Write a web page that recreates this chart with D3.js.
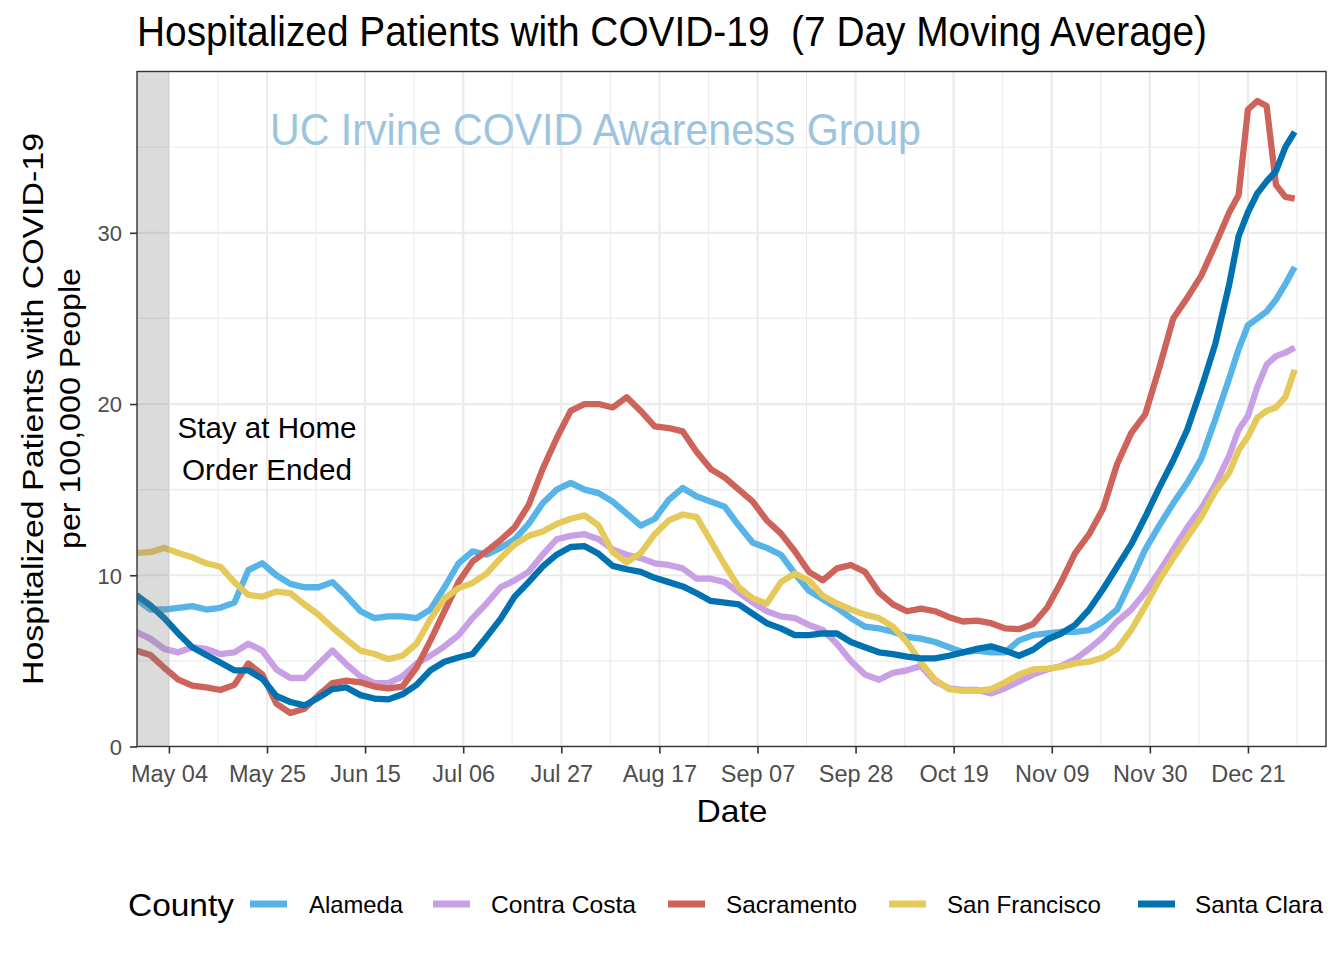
<!DOCTYPE html>
<html><head><meta charset="utf-8">
<script src="https://cdn.jsdelivr.net/npm/d3@7"></script>
<style>
body{margin:0;background:#fff}
svg text{font-family:"Liberation Sans",Arial,Helvetica,sans-serif;white-space:pre}
</style>
</head><body>
<svg id="c" width="1344" height="960"></svg>
<script>
// ---------- DATA ----------
const startDate = "2020-04-27";
const dayOffsets = [0,3,6,9,12,15,18,21,24,27,30,33,36,39,42,45,48,51,54,57,60,63,66,69,72,75,78,81,84,87,
  90,93,96,99,102,105,108,111,114,117,120,123,126,129,132,135,138,141,144,147,150,153,156,159,162,165,168,171,174,177,
  180,183,186,189,192,195,198,201,204,207,210,213,216,219,222,225,228,231,234,236,238,240,242,244,246,248];

const counties = ["Alameda","Contra Costa","Sacramento","San Francisco","Santa Clara"];

const alameda = [8.6,8.0,8.0,8.1,8.2,8.0,8.1,8.4,10.3,10.7,
  10.0,9.5,9.3,9.3,9.6,8.8,7.9,7.5,7.6,7.6,
  7.5,8.0,9.3,10.7,11.4,11.2,11.6,12.1,13.0,14.2,
  15.0,15.4,15.0,14.8,14.3,13.6,12.9,13.3,14.4,15.1,
  14.6,14.3,14.0,12.9,11.9,11.6,11.2,10.1,9.1,8.6,
  8.1,7.5,7.0,6.9,6.7,6.4,6.3,6.1,5.8,5.5,
  5.6,5.5,5.5,6.2,6.5,6.6,6.7,6.7,6.8,7.3,
  8.0,9.7,11.5,12.9,14.2,15.4,16.8,19.1,21.5,
  23.2,24.6,25.0,25.4,26.1,27.0,28.0];

const contraCosta = [6.7,6.3,5.7,5.5,5.8,5.7,5.4,5.5,6.0,5.6,
  4.5,4.0,4.0,4.8,5.6,4.8,4.1,3.7,3.7,4.1,
  4.85,5.3,5.85,6.5,7.5,8.35,9.3,9.7,10.2,11.2,
  12.1,12.3,12.4,12.1,11.5,11.2,11.0,10.7,10.6,10.4,
  9.8,9.8,9.6,9.0,8.4,7.9,7.6,7.5,7.1,6.8,
  6.0,5.0,4.2,3.9,4.3,4.45,4.7,3.8,3.4,3.3,
  3.3,3.1,3.4,3.8,4.2,4.5,4.7,5.1,5.7,6.4,
  7.3,8.0,9.0,10.2,11.5,12.8,13.9,15.3,17.0,
  18.5,19.3,21.0,22.3,22.8,23.0,23.3];

const sacramento = [5.6,5.35,4.6,3.9,3.55,3.45,3.3,3.6,4.85,4.2,
  2.5,1.95,2.2,3.0,3.7,3.85,3.75,3.5,3.4,3.5,
  4.6,6.2,7.9,9.6,10.8,11.4,12.05,12.8,14.1,16.2,
  18.0,19.6,20.0,20.0,19.8,20.4,19.6,18.7,18.6,18.4,
  17.2,16.2,15.7,15.0,14.3,13.2,12.45,11.4,10.2,9.7,
  10.4,10.6,10.2,9.0,8.3,7.9,8.05,7.9,7.55,7.3,
  7.35,7.2,6.9,6.85,7.15,8.1,9.6,11.3,12.4,13.9,
  16.5,18.3,19.4,22.1,25.0,26.2,27.5,29.3,31.2,
  32.2,37.2,37.7,37.4,32.8,32.1,32.0];

const sanFrancisco = [11.3,11.35,11.6,11.3,11.05,10.7,10.5,9.6,8.85,8.75,
  9.05,8.95,8.3,7.7,6.95,6.25,5.6,5.4,5.1,5.3,
  6.0,7.45,8.65,9.25,9.55,10.1,11.0,11.8,12.3,12.55,
  13.0,13.3,13.5,12.9,11.35,10.75,11.3,12.4,13.2,13.55,
  13.4,12.0,10.6,9.3,8.65,8.35,9.6,10.1,9.7,8.8,
  8.35,8.0,7.7,7.5,7.0,6.1,4.9,3.9,3.35,3.25,
  3.25,3.35,3.75,4.2,4.5,4.55,4.65,4.85,4.95,5.2,
  5.7,6.8,8.2,9.7,11.0,12.2,13.4,14.9,16.0,
  17.3,18.1,19.2,19.6,19.8,20.4,22.0];

const santaClara = [8.85,8.25,7.5,6.6,5.8,5.35,4.9,4.45,4.45,3.95,
  2.95,2.6,2.4,2.85,3.35,3.45,3.0,2.8,2.75,3.05,
  3.6,4.45,4.95,5.2,5.4,6.4,7.45,8.75,9.6,10.5,
  11.2,11.65,11.7,11.25,10.55,10.35,10.2,9.85,9.6,9.35,
  8.95,8.5,8.4,8.3,7.75,7.2,6.9,6.5,6.5,6.6,
  6.6,6.1,5.8,5.5,5.4,5.25,5.15,5.15,5.3,5.5,
  5.7,5.85,5.6,5.3,5.65,6.25,6.6,7.1,8.0,9.2,
  10.5,11.8,13.4,15.1,16.7,18.5,20.9,23.5,27.0,
  29.8,31.2,32.3,33.0,33.6,35.0,35.9];

const seriesValues = [alameda, contraCosta, sacramento, sanFrancisco, santaClara];
const colors = ["#56B4E9","#C9A0E6","#CD635A","#E5C95B","#0072B2"];

const xTickDates = ["2020-05-04","2020-05-25","2020-06-15","2020-07-06","2020-07-27","2020-08-17",
  "2020-09-07","2020-09-28","2020-10-19","2020-11-09","2020-11-30","2020-12-21"];
const yTicks = [0,10,20,30];
const yMinor = [5,15,25,35];
const stayHomeEnd = "2020-05-04";

// ---------- CHART ----------
const svg = d3.select("#c");
const P = {l:137, r:1326, t:71.5, b:746.5};
const parse = d3.utcParse("%Y-%m-%d");
const day0 = parse(startDate);
const x = d3.scaleUtc()
  .domain([new Date(Date.UTC(2020,3,27,4)), new Date(Date.UTC(2021,0,6,17))])
  .range([P.l, P.r]);
const y = d3.scaleLinear().domain([0, 39.42]).range([P.b, P.t]);

const tickDates = xTickDates.map(parse);
const minorDates = tickDates.map(d => d3.utcHour.offset(d, 252));

svg.append("defs").append("clipPath").attr("id","clip")
  .append("rect").attr("x",P.l).attr("y",P.t).attr("width",P.r-P.l).attr("height",P.b-P.t);

const grid = svg.append("g").attr("clip-path","url(#clip)");
grid.selectAll(".ymin").data(yMinor).join("line")
  .attr("x1",P.l).attr("x2",P.r).attr("y1",d=>y(d)).attr("y2",d=>y(d))
  .attr("stroke","#ebebeb").attr("stroke-width",1.1);
grid.selectAll(".xmin").data(minorDates).join("line")
  .attr("y1",P.t).attr("y2",P.b).attr("x1",d=>x(d)).attr("x2",d=>x(d))
  .attr("stroke","#ebebeb").attr("stroke-width",1.1);
grid.selectAll(".ymaj").data(yTicks).join("line")
  .attr("x1",P.l).attr("x2",P.r).attr("y1",d=>y(d)).attr("y2",d=>y(d))
  .attr("stroke","#ebebeb").attr("stroke-width",2.2);
grid.selectAll(".xmaj").data(tickDates).join("line")
  .attr("y1",P.t).attr("y2",P.b).attr("x1",d=>x(d)).attr("x2",d=>x(d))
  .attr("stroke","#ebebeb").attr("stroke-width",2.2);

// lines
const line = d3.line().x(d=>x(d.date)).y(d=>y(d.v));
const dates = dayOffsets.map(o => d3.utcDay.offset(day0, o));
const lg = svg.append("g").attr("clip-path","url(#clip)");
seriesValues.forEach((vals,i) => {
  const pts = vals.map((v,j)=>({date:dates[j], v}));
  lg.append("path").datum(pts).attr("d",line)
    .attr("fill","none").attr("stroke",colors[i]).attr("stroke-width",6.3)
    .attr("stroke-linejoin","round").attr("stroke-linecap","butt");
});

// shaded stay-at-home region
svg.append("rect").attr("x",P.l).attr("y",P.t)
  .attr("width",x(parse(stayHomeEnd))-P.l).attr("height",P.b-P.t)
  .attr("fill","#7f7f7f").attr("opacity",0.28);

// annotations
svg.append("text").attr("x",270).attr("y",145).attr("font-size",45)
  .attr("fill","#9DC4DE").attr("textLength",651).attr("lengthAdjust","spacingAndGlyphs")
  .text("UC Irvine COVID Awareness Group");
svg.append("text").attr("x",267).attr("y",438).attr("font-size",29).attr("text-anchor","middle")
  .attr("fill","#000").attr("textLength",179).attr("lengthAdjust","spacingAndGlyphs").text("Stay at Home");
svg.append("text").attr("x",267).attr("y",480).attr("font-size",29).attr("text-anchor","middle")
  .attr("fill","#000").attr("textLength",170).attr("lengthAdjust","spacingAndGlyphs").text("Order Ended");

// panel border
svg.append("rect").attr("x",P.l).attr("y",P.t).attr("width",P.r-P.l).attr("height",P.b-P.t)
  .attr("fill","none").attr("stroke","#333333").attr("stroke-width",1.4);

// axes
const xa = svg.append("g").attr("transform",`translate(0,${P.b})`)
  .call(d3.axisBottom(x).tickValues(tickDates).tickFormat(d3.utcFormat("%b %d")).tickSizeOuter(0).tickSize(7));
xa.select(".domain").remove();
xa.selectAll(".tick line").attr("stroke","#333333").attr("stroke-width",1.6);
xa.selectAll(".tick text").attr("y",35.5).attr("dy",0).attr("font-size",23.5)
  .attr("fill","#4d4d4d").attr("font-family","Liberation Sans, Arial, sans-serif");

const ya = svg.append("g").attr("transform",`translate(${P.l},0)`)
  .call(d3.axisLeft(y).tickValues(yTicks).tickSizeOuter(0).tickSize(7));
ya.select(".domain").remove();
ya.selectAll(".tick line").attr("stroke","#333333").attr("stroke-width",1.6);
ya.selectAll(".tick text").attr("x",-15).attr("dy","0.36em").attr("font-size",22)
  .attr("fill","#4d4d4d").attr("font-family","Liberation Sans, Arial, sans-serif");

// titles
svg.append("text").attr("x",137).attr("y",46).attr("font-size",42).attr("fill","#000")
  .attr("textLength",1070).attr("lengthAdjust","spacingAndGlyphs")
  .text("Hospitalized Patients with COVID-19  (7 Day Moving Average)");
svg.append("text").attr("x",732).attr("y",822).attr("font-size",32).attr("text-anchor","middle")
  .attr("fill","#000").attr("textLength",71).attr("lengthAdjust","spacingAndGlyphs").text("Date");
svg.append("text").attr("transform","translate(43,409) rotate(-90)").attr("font-size",30)
  .attr("text-anchor","middle").attr("fill","#000").attr("textLength",552).attr("lengthAdjust","spacingAndGlyphs")
  .text("Hospitalized Patients with COVID-19");
svg.append("text").attr("transform","translate(80,408.5) rotate(-90)").attr("font-size",30)
  .attr("text-anchor","middle").attr("fill","#000").attr("textLength",281).attr("lengthAdjust","spacingAndGlyphs")
  .text("per 100,000 People");

// legend
const legKeyX = [250,433,668,889,1138];
const legLabelX = [309,491,726,947,1195];
const legLabelW = [94,145,131,154,128];
svg.append("text").attr("x",128).attr("y",916).attr("font-size",31).attr("fill","#000")
  .attr("textLength",106).attr("lengthAdjust","spacingAndGlyphs").text("County");
counties.forEach((c,i)=>{
  svg.append("line").attr("x1",legKeyX[i]).attr("x2",legKeyX[i]+37).attr("y1",904).attr("y2",904)
    .attr("stroke",colors[i]).attr("stroke-width",7);
  svg.append("text").attr("x",legLabelX[i]).attr("y",913).attr("font-size",24).attr("fill","#000")
    .attr("textLength",legLabelW[i]).attr("lengthAdjust","spacingAndGlyphs").text(c);
});
</script>
</body></html>
